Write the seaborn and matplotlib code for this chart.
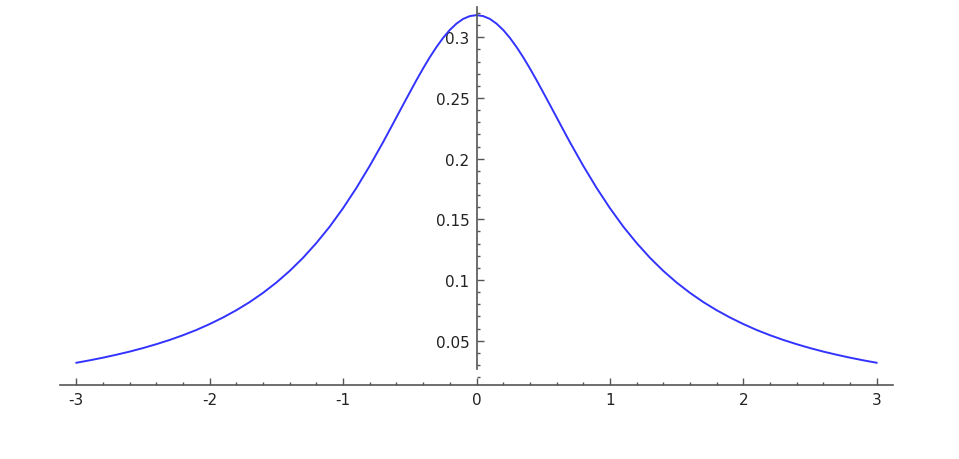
import numpy as np
import pandas as pd
import matplotlib
import matplotlib.pyplot as plt
import seaborn as sns
from matplotlib.ticker import MultipleLocator, FuncFormatter

matplotlib.use('Agg')

# density values (denser sampling around the peak)
x_vals = [-3.0, -2.9, -2.8, -2.7, -2.6, -2.5, -2.4, -2.3, -2.2, -2.1,
          -2.0, -1.9, -1.8, -1.7, -1.6, -1.5, -1.4, -1.3, -1.2, -1.1,
          -1.0, -0.9, -0.8, -0.7, -0.65, -0.6, -0.55, -0.5, -0.45, -0.4,
          -0.35, -0.3, -0.25, -0.2, -0.15, -0.1, -0.05,
          0.0, 0.05, 0.1, 0.15, 0.2, 0.25, 0.3, 0.35, 0.4, 0.45,
          0.5, 0.55, 0.6, 0.65, 0.7, 0.8, 0.9,
          1.0, 1.1, 1.2, 1.3, 1.4, 1.5, 1.6, 1.7, 1.8, 1.9,
          2.0, 2.1, 2.2, 2.3, 2.4, 2.5, 2.6, 2.7, 2.8, 2.9, 3.0]
y_vals = [0.0318, 0.0338, 0.0360, 0.0384, 0.0410, 0.0439, 0.0471, 0.0506, 0.0545, 0.0588,
          0.0637, 0.0691, 0.0751, 0.0818, 0.0894, 0.0979, 0.1075, 0.1183, 0.1305, 0.1440,
          0.1592, 0.1759, 0.1941, 0.2136, 0.2238, 0.2341, 0.2444, 0.2546, 0.2647, 0.2744,
          0.2836, 0.2920, 0.2996, 0.3061, 0.3113, 0.3152, 0.3175,
          0.3183, 0.3175, 0.3152, 0.3113, 0.3061, 0.2996, 0.2920, 0.2836, 0.2744, 0.2647,
          0.2546, 0.2444, 0.2341, 0.2238, 0.2136, 0.1941, 0.1759,
          0.1592, 0.1440, 0.1305, 0.1183, 0.1075, 0.0979, 0.0894, 0.0818, 0.0751, 0.0691,
          0.0637, 0.0588, 0.0545, 0.0506, 0.0471, 0.0439, 0.0410, 0.0384, 0.0360, 0.0338, 0.0318]

x_ticks = [-3, -2, -1, 0, 1, 2, 3]
y_ticks = [0.05, 0.1, 0.15, 0.2, 0.25, 0.3]

sns.set_style('white')
plt.rcParams['font.family'] = ['DejaVu Sans']
plt.rcParams['axes.unicode_minus'] = False

df = pd.DataFrame({'x': x_vals, 'y': y_vals})

fig = plt.figure(figsize=(9.59, 4.6), dpi=100)
ax = fig.add_axes([60 / 959, 1 - 386 / 460, 833 / 959, 378 / 460])
ax.patch.set_alpha(0)

sns.lineplot(data=df, x='x', y='y', ax=ax, color='#3333ff', linewidth=1.4)

ax.set_xlim(-3.121, 3.121)
ax.set_ylim(0.0135, 0.325)
ax.set_xlabel('')
ax.set_ylabel('')

axis_color = '#555555'
for s in ['top', 'right']:
    ax.spines[s].set_visible(False)
ax.spines['left'].set_position(('data', 0))
ax.spines['left'].set_bounds(0.0267, 0.325)
for s in ['left', 'bottom']:
    ax.spines[s].set_color(axis_color)
    ax.spines[s].set_linewidth(1.2)

ax.set_xticks(x_ticks)
ax.set_yticks(y_ticks)
ax.xaxis.set_minor_locator(MultipleLocator(0.2))
ax.yaxis.set_minor_locator(MultipleLocator(0.01))
fmt = FuncFormatter(lambda v, p: ('%g' % round(v, 4)))
ax.xaxis.set_major_formatter(fmt)
ax.yaxis.set_major_formatter(fmt)

ax.tick_params(which='major', direction='in', length=5, width=1,
               color=axis_color, labelsize=11, labelcolor='#222222', pad=5)
ax.tick_params(which='minor', direction='in', length=2.5, width=1, color=axis_color)
ax.tick_params(axis='x', which='both', bottom=True, top=False)
ax.tick_params(axis='y', which='both', left=True, right=False)

fig.savefig('out.png', dpi=100)
